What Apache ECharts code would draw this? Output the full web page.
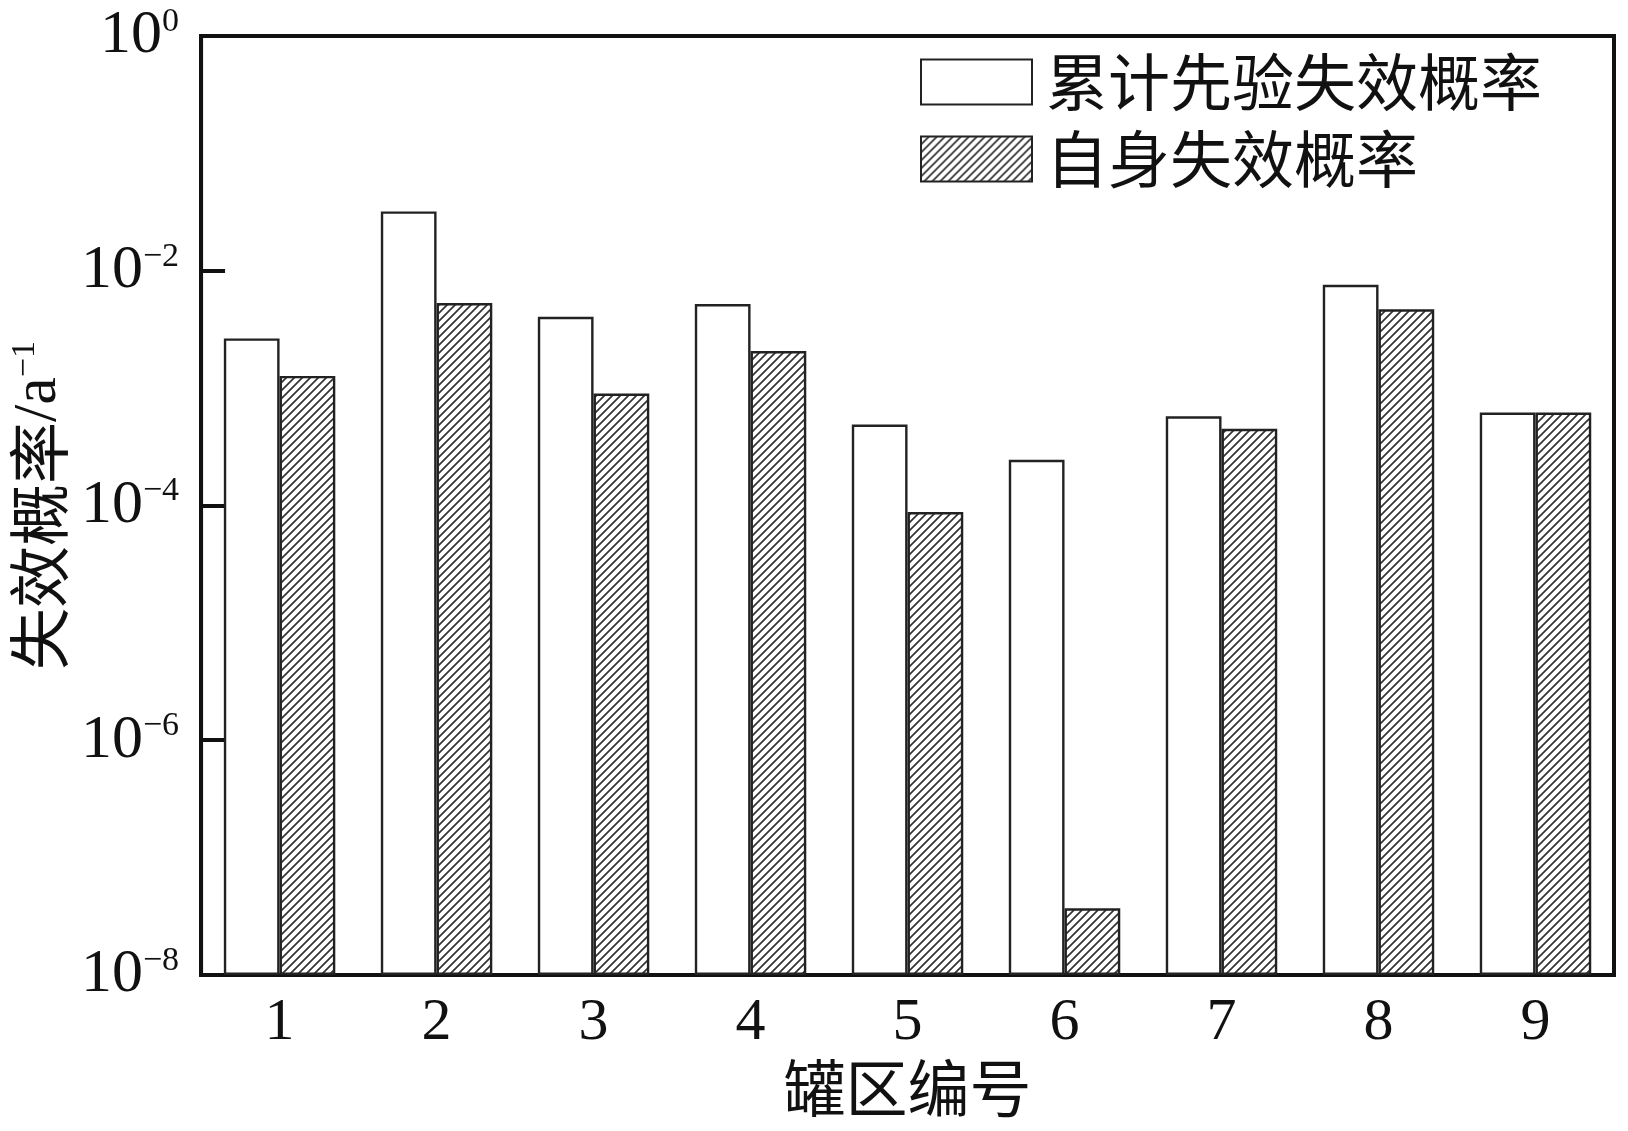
<!DOCTYPE html>
<html>
<head>
<meta charset="utf-8">
<script src="https://cdn.jsdelivr.net/npm/echarts@6/dist/echarts.min.js"></script>
<style>
html,body{margin:0;padding:0;background:#fff;}
#chart{width:1628px;height:1131px;}
</style>
</head>
<body>
<div id="chart"></div>
<script>
// ---- data ----
const categories = ['1', '2', '3', '4', '5', '6', '7', '8', '9'];
const seriesNames = ['累计先验失效概率', '自身失效概率'];
const cumulativePrior = [2.65e-3, 3.2e-2, 4.05e-3, 5.2e-3, 4.9e-4, 2.45e-4, 5.75e-4, 7.6e-3, 6.2e-4];
const selfFailure = [1.27e-3, 5.3e-3, 9.0e-4, 2.07e-3, 8.8e-5, 3.7e-8, 4.5e-4, 4.7e-3, 6.2e-4];
const yMin = 1e-8;
const yMax = 1;
const xTitle = '罐区编号';
const yTitleCjk = '失效概率';
const yTitleUnit = '/a';
const yTitleSup = '−1';

// hatch pattern
function makeHatch() {
  const s = 8;
  const c = document.createElement('canvas');
  c.width = s; c.height = s;
  const g = c.getContext('2d');
  g.fillStyle = '#ffffff';
  g.fillRect(0, 0, s, s);
  g.strokeStyle = '#333333';
  g.lineWidth = 1.7;
  g.beginPath();
  g.moveTo(-1, s + 1); g.lineTo(s + 1, -1);
  g.moveTo(-1, 1); g.lineTo(1, -1);
  g.moveTo(s - 1, s + 1); g.lineTo(s + 1, s - 1);
  g.stroke();
  return c;
}
const hatch = { image: makeHatch(), repeat: 'repeat' };

const serif = '"Liberation Serif", "Times New Roman", serif';
const cjk = '"Noto Sans CJK SC", sans-serif';

const chart = echarts.init(document.getElementById('chart'), null, { renderer: 'canvas' });
chart.setOption({
  backgroundColor: '#ffffff',
  animation: false,
  grid: {
    left: 198, right: 14, top: 36, bottom: 156,
    show: true, borderColor: '#111', borderWidth: 4, backgroundColor: 'transparent'
  },
  legend: {
    orient: 'vertical',
    left: 915, top: 46,
    itemWidth: 111, itemHeight: 45,
    itemGap: 15,
    icon: 'rect',
    textStyle: { fontFamily: cjk, fontSize: 62, color: '#111', padding: [0, 0, 0, 9] },
    data: seriesNames
  },
  xAxis: {
    type: 'category',
    data: categories,
    axisLine: { show: true, lineStyle: { color: '#111', width: 4 } },
    axisTick: { show: false },
    axisLabel: { fontFamily: serif, fontSize: 60, color: '#111', margin: 18 },
    name: xTitle,
    nameLocation: 'middle',
    nameGap: 78,
    nameTextStyle: { fontFamily: cjk, fontSize: 62, color: '#111' }
  },
  yAxis: {
    type: 'log',
    logBase: 10,
    min: yMin,
    max: yMax,
    interval: 2,
    splitNumber: 4,
    startValue: yMin,
    splitLine: { show: false },
    axisLine: { show: true, lineStyle: { color: '#111', width: 4 } },
    axisTick: { show: true, inside: true, length: 24, lineStyle: { color: '#111', width: 4 } },
    axisLabel: {
      margin: 22,
      formatter: function (v) {
        const e = Math.round(Math.log10(v));
        return '{b|10}{s|' + (e < 0 ? '−' + (-e) : String(e)) + '}';
      },
      rich: {
        b: { fontFamily: serif, fontSize: 62, color: '#111', lineHeight: 62 },
        s: { fontFamily: serif, fontSize: 34, color: '#111', verticalAlign: 'top', lineHeight: 34 }
      }
    },
    name: '{c|' + yTitleCjk + '}{r|' + yTitleUnit + '}{s|' + yTitleSup + '}',
    nameLocation: 'middle',
    nameRotate: 90,
    nameGap: 126,
    nameTextStyle: {
      rich: {
        c: { fontFamily: cjk, fontSize: 62, color: '#111', lineHeight: 62 },
        r: { fontFamily: serif, fontSize: 62, color: '#111', lineHeight: 62 },
        s: { fontFamily: serif, fontSize: 34, color: '#111', verticalAlign: 'top', lineHeight: 34 }
      }
    }
  },
  series: [
    {
      name: seriesNames[0],
      type: 'bar',
      data: cumulativePrior,
      barGap: '0%',
      barCategoryGap: '29%',
      itemStyle: { color: '#ffffff', borderColor: '#222', borderWidth: 2.4 }
    },
    {
      name: seriesNames[1],
      type: 'bar',
      data: selfFailure,
      barGap: '0%',
      barCategoryGap: '29%',
      itemStyle: { color: hatch, borderColor: '#222', borderWidth: 2.4 }
    }
  ]
});
</script>
</body>
</html>
